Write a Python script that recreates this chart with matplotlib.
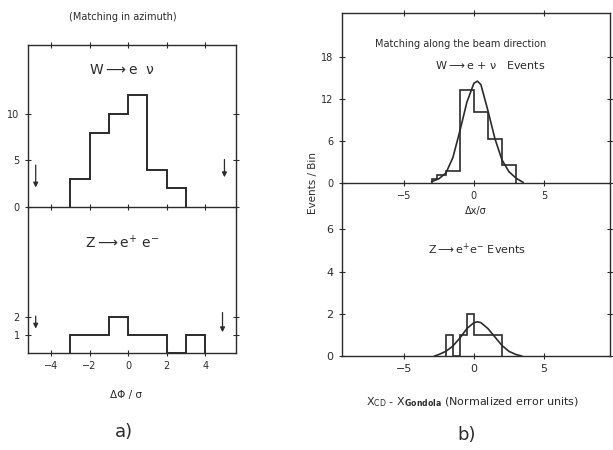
import matplotlib.pyplot as plt
import numpy as np

# ---- data ----
# a) matching in azimuth
w_phi_edges = [-3, -2, -1, 0, 1, 2, 3]
w_phi_counts = [3, 8, 10, 12, 4, 2]
z_phi_edges = [-3, -2, -1, 0, 1, 2, 3, 4]
z_phi_counts = [1, 1, 2, 1, 1, 0, 1]

# cut arrows (x, y_from, y_to)
w_phi_arrows = [(-4.8, 4.8, 1.8), (5.0, 5.4, 2.9)]
z_phi_arrows = [(-4.8, 2.2, 1.2), (4.9, 2.4, 1.0)]

# b) matching along the beam direction
w_x_edges = [-3, -2.6, -2, -1, 0, 1, 2, 3]
w_x_counts = [0.6, 1.2, 1.7, 13.3, 10.1, 6.2, 2.5]
w_fit_x = [-3.0, -2.5, -2.0, -1.5, -1.0, -0.5, 0.0, 0.25, 0.5, 1.0, 1.5, 2.0, 2.5, 3.0, 3.5]
w_fit_y = [0.2, 0.6, 1.4, 3.6, 7.4, 11.5, 14.2, 14.5, 14.0, 10.3, 6.3, 3.3, 1.6, 0.7, 0.1]

z_x_edges = [-2, -1.5, -1, -0.5, 0, 0.5, 1, 1.5, 2]
z_x_counts = [1, 0, 1, 2, 1, 1, 1, 1]
z_fit_x = [-2.8, -2.5, -2.0, -1.5, -1.0, -0.5, 0.0, 0.25, 0.5, 1.0, 1.5, 2.0, 2.5, 3.0, 3.4]
z_fit_y = [0.0, 0.07, 0.22, 0.47, 0.85, 1.3, 1.58, 1.62, 1.58, 1.3, 0.9, 0.5, 0.22, 0.07, 0.0]

ink = '#2b2b2b'
W, H = 613, 450


def box(x0, y0, x1, y1):
    # pixel box -> figure fraction rect
    return [x0 / W, 1 - y1 / H, (x1 - x0) / W, (y1 - y0) / H]


def ftext(x, y, s, **kw):
    fig.text(x / W, 1 - y / H, s, ha='center', va='center', color=ink, **kw)


def style(ax, fs=7):
    for s in ax.spines.values():
        s.set_color(ink)
        s.set_linewidth(1.0)
    ax.tick_params(direction='inout', length=5, width=0.8, colors=ink,
                   labelsize=fs, top=True, right=True, labelcolor=ink)


plt.rcParams['font.family'] = ['DejaVu Sans']
fig = plt.figure(figsize=(6.13, 4.5), dpi=100)

# ---- a) lower (added first so the upper panel sits on top) ----
ax2 = fig.add_axes(box(28, 207, 236, 353))
ax2.patch.set_visible(False)
ax2.stairs(z_phi_counts, z_phi_edges, color=ink, lw=1.4)
for x, y0, y1 in z_phi_arrows:
    ax2.annotate('', xy=(x, y1), xytext=(x, y0),
                 arrowprops=dict(arrowstyle='-|>', color=ink, lw=0.9, mutation_scale=7))
ax2.set_xlim(-5.2, 5.6)
ax2.set_ylim(0, 8.1)
ax2.set_xticks([-4, -2, 0, 2, 4])
ax2.set_yticks([1, 2])
ax2.spines['top'].set_visible(False)
style(ax2)
ax2.tick_params(top=False)

# ---- a) upper ----
ax1 = fig.add_axes(box(28, 45, 236, 207))
ax1.patch.set_visible(False)
ax1.stairs(w_phi_counts, w_phi_edges, color=ink, lw=1.4)
for x, y0, y1 in w_phi_arrows:
    ax1.annotate('', xy=(x, y1), xytext=(x, y0),
                 arrowprops=dict(arrowstyle='-|>', color=ink, lw=0.9, mutation_scale=7))
ax1.set_xlim(-5.2, 5.6)
ax1.set_ylim(0, 17.4)
ax1.set_xticks([-4, -2, 0, 2, 4])
ax1.set_xticklabels([])
ax1.set_yticks([0, 5, 10])
style(ax1)

# ---- b) lower ----
ax4 = fig.add_axes(box(342, 183, 610, 356))
ax4.patch.set_visible(False)
ax4.stairs(z_x_counts, z_x_edges, color=ink, lw=1.2)
ax4.plot(z_fit_x, z_fit_y, color=ink, lw=1.2)
ax4.set_xlim(-9.4, 9.7)
ax4.set_ylim(0, 8.2)
ax4.set_xticks([-5, 0, 5])
ax4.set_yticks([0, 2, 4, 6])
ax4.spines['top'].set_visible(False)
style(ax4, fs=8)
ax4.tick_params(top=False)

# ---- b) upper ----
ax3 = fig.add_axes(box(342, 13, 610, 183))
ax3.patch.set_visible(False)
ax3.stairs(w_x_counts, w_x_edges, color=ink, lw=1.2)
ax3.plot(w_fit_x, w_fit_y, color=ink, lw=1.2)
ax3.set_xlim(-9.4, 9.7)
ax3.set_ylim(0, 24.2)
ax3.set_xticks([-5, 0, 5])
ax3.set_yticks([0, 6, 12, 18])
style(ax3)
ax3.tick_params(axis='x', pad=3)

# ---- text ----
ftext(123, 17, '(Matching in azimuth)', fontsize=7)
ftext(122, 70, r'W$\longrightarrow$e  ν', fontsize=10)
ftext(122, 243, r'Z$\longrightarrow$e$^{+}$ e$^{-}$', fontsize=10)
ftext(126, 395, 'ΔΦ / σ', fontsize=7.5)
ftext(124, 432, 'a)', fontsize=13)

ftext(461, 44, 'Matching along the beam direction', fontsize=7)
ftext(490, 65, r'W$\longrightarrow$e + ν   Events', fontsize=8)
ftext(476, 211, 'Δx/σ', fontsize=7)
ftext(477, 249, r'Z$\longrightarrow$e$^{+}$e$^{-}$ Events', fontsize=8)
ftext(473, 402, r'X$_{\mathrm{CD}}$ - X$_{\mathbf{Gondola}}$ (Normalized error units)', fontsize=8)
ftext(467, 435, 'b)', fontsize=13)
ftext(313, 183, 'Events / Bin', fontsize=7.5, rotation=90)

fig.savefig('out.png', dpi=100)
